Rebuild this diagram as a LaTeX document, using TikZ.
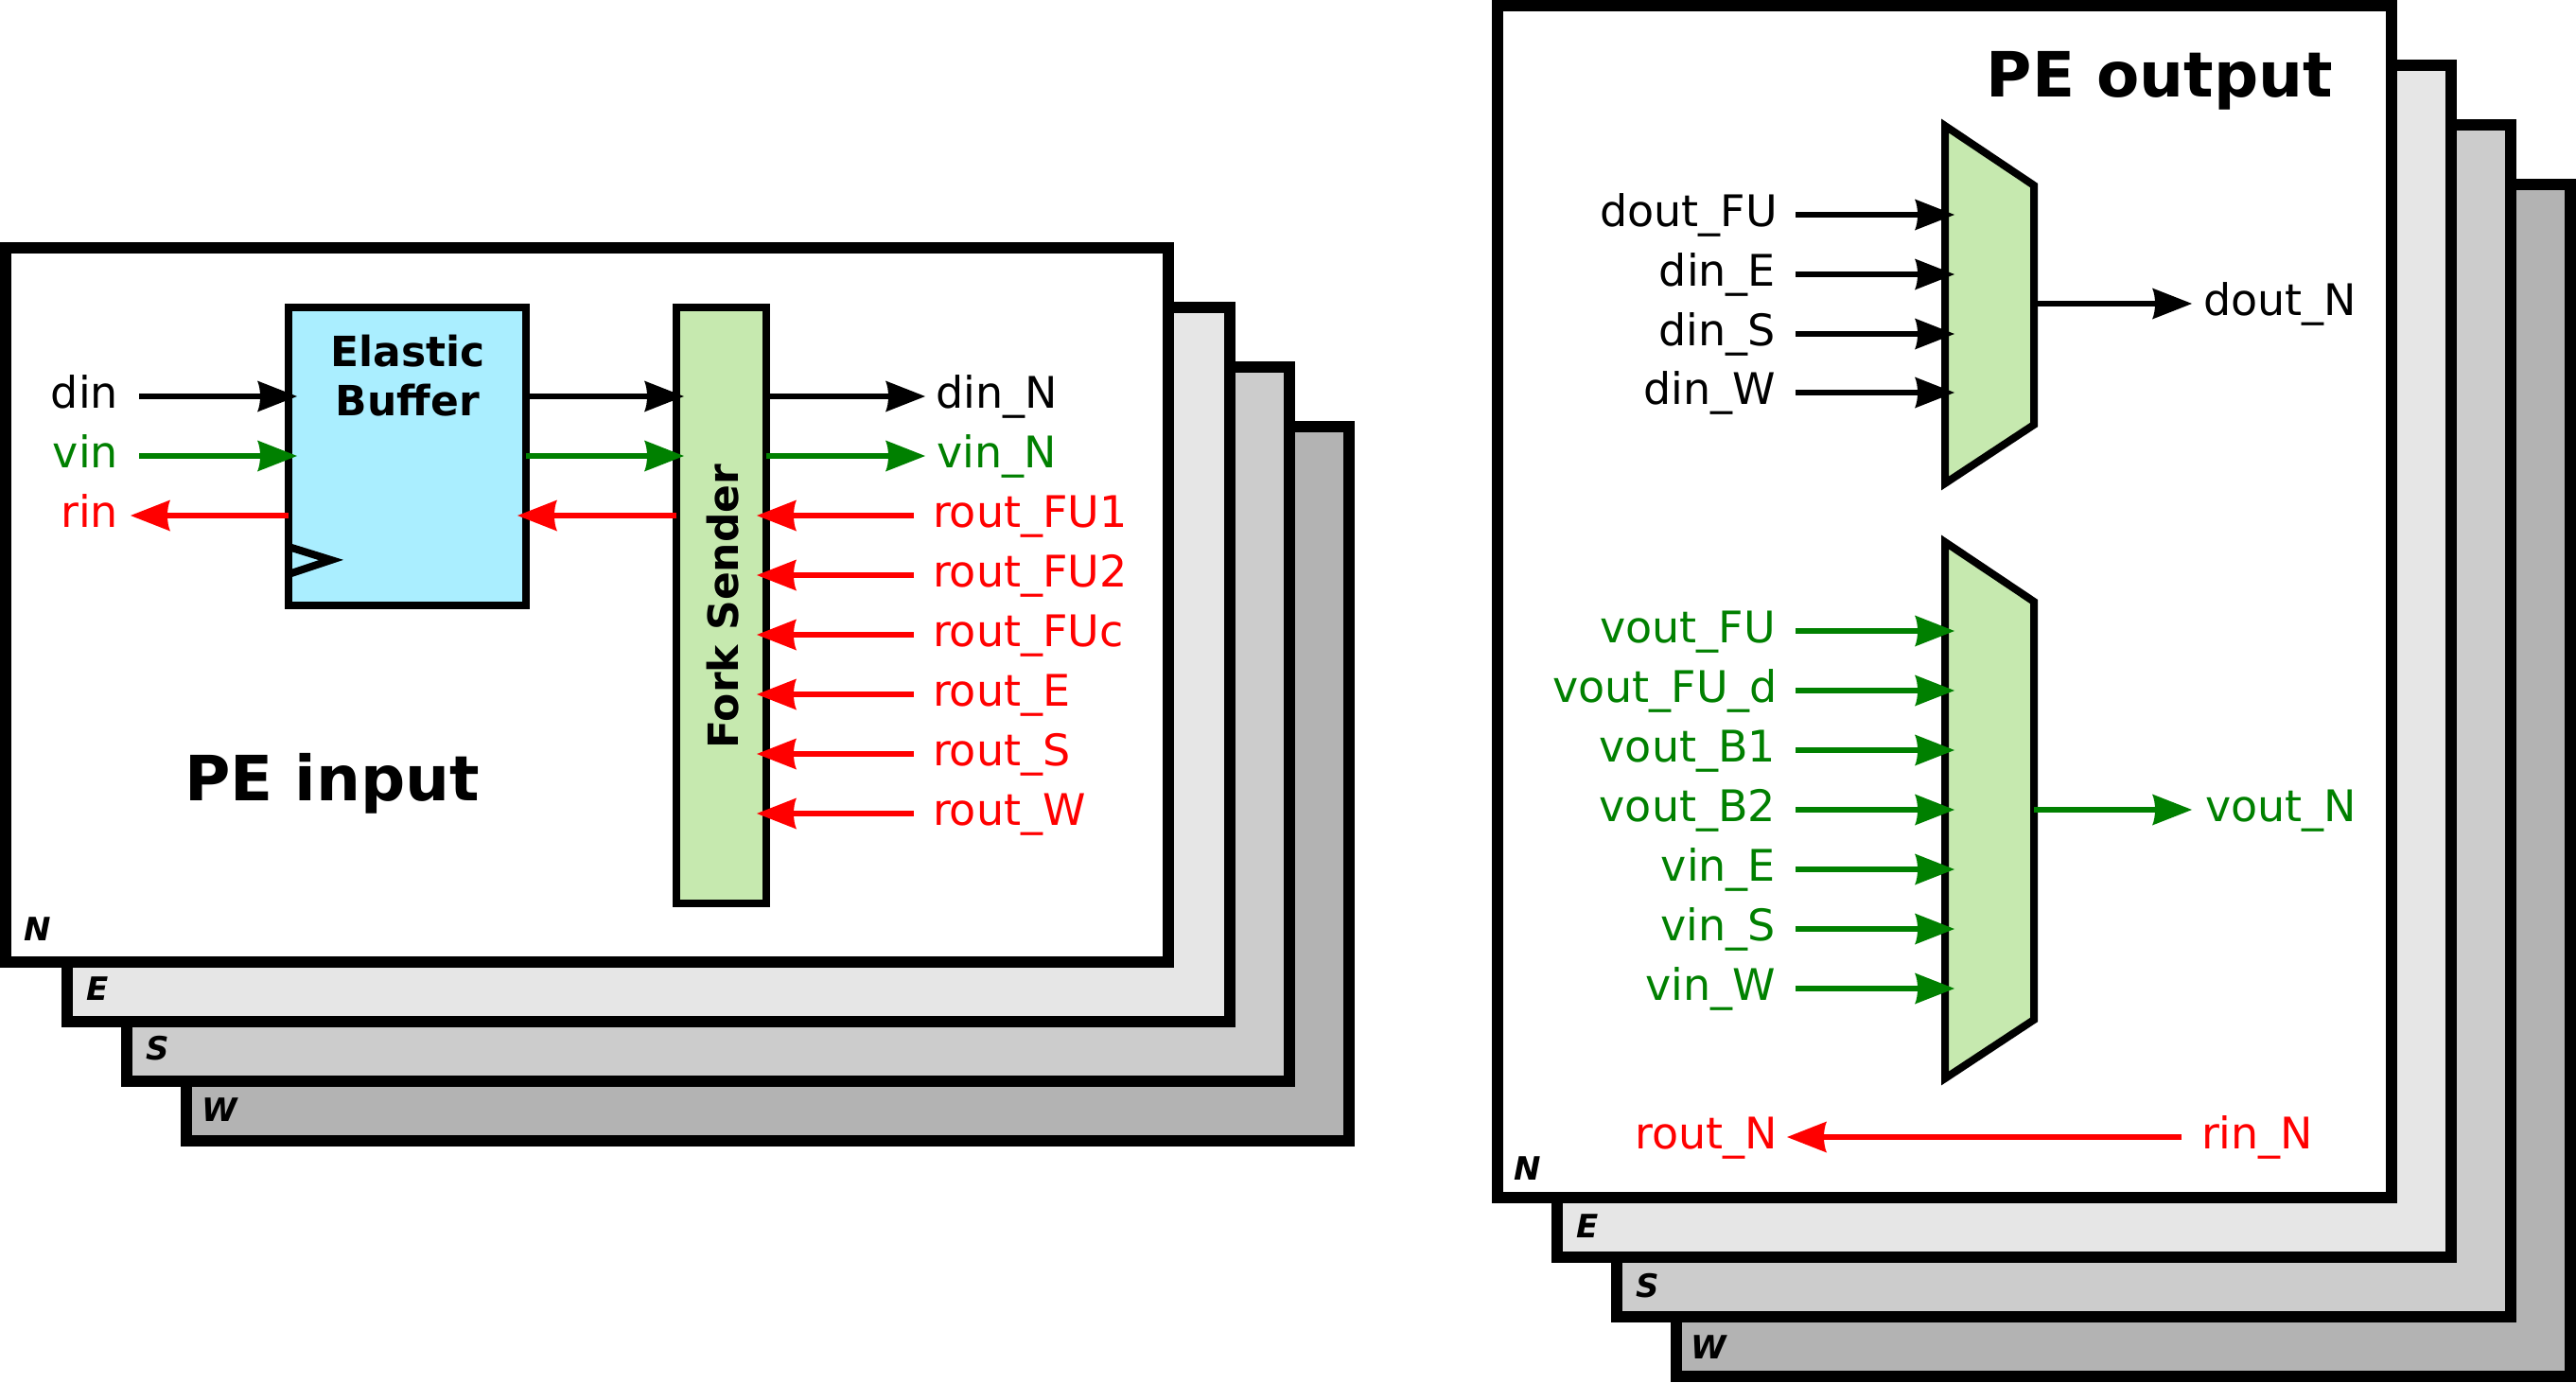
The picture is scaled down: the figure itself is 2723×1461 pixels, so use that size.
\documentclass[tikz,border=0pt]{standalone}
\usepackage{fontspec}
\setmainfont{DejaVu Sans}
\usetikzlibrary{arrows.meta,calc}
\pgfdeclarearrow{
  name=PEtip,
  setup code={
    \pgfarrowssettipend{0pt}
    \pgfarrowssetlineend{-18pt}
    \pgfarrowssetvisualbackend{-21pt}
    \pgfarrowssetbackend{-21pt}
    \pgfarrowshullpoint{0pt}{0pt}
    \pgfarrowshullpoint{-21pt}{8.25pt}
    \pgfarrowshullpoint{-21pt}{-8.25pt}
  },
  drawing code={
    \pgfpathmoveto{\pgfpoint{0pt}{0pt}}
    \pgfpathlineto{\pgfpoint{-21pt}{8.25pt}}
    \pgfpathcurveto{\pgfpoint{-19pt}{4pt}}{\pgfpoint{-19pt}{-4pt}}{\pgfpoint{-21pt}{-8.25pt}}
    \pgfpathclose
    \pgfusepathqfill
  }
}
\definecolor{pegreen}{HTML}{008000}
\definecolor{pered}{HTML}{FF0000}
\definecolor{ebfill}{HTML}{AAEEFF}
\definecolor{muxfill}{HTML}{C6E9AF}
\definecolor{layerE}{HTML}{E6E6E6}
\definecolor{layerS}{HTML}{CCCCCC}
\definecolor{layerW}{HTML}{B3B3B3}
\tikzset{
  x=0.5pt,y=-0.5pt,
  frame/.style={draw=black,line width=6.25pt,miter limit=10},
  box/.style={draw=black,line width=4pt,outer sep=0pt,inner sep=0pt},
  mux/.style={draw=black,line width=4pt,fill=muxfill,line join=miter,miter limit=10},
  sig/.style={line width=3pt,-{PEtip}},
  lab/.style={inner sep=0pt,outer sep=0pt,font=\fontsize{23pt}{27pt}\selectfont},
  lr/.style={lab,anchor=mid east},
  ll/.style={lab,anchor=mid west},
  layertag/.style={inner sep=0pt,anchor=base west,font=\fontsize{17pt}{20pt}\selectfont\bfseries\itshape},
  titletext/.style={inner sep=0pt,anchor=base,font=\fontsize{33pt}{40pt}\selectfont\bfseries},
  boxtext/.style={inner sep=0pt,anchor=base,font=\fontsize{22pt}{28pt}\selectfont\bfseries}
}
\begin{document}
\begin{tikzpicture}[execute at begin picture={\fontsize{23pt}{27pt}\selectfont}]
\useasboundingbox (0,0) rectangle (2723,1461);
% ---- left stack
\draw[frame,fill=layerW] (197,451) rectangle (1426,1206);
\draw[frame,fill=layerS] (134,388) rectangle (1363,1143);
\draw[frame,fill=layerE] (71,325) rectangle (1300,1080);
\draw[frame,fill=white] (6,262) rectangle (1235,1017);
\node[layertag] (tagNl) at (25,994) {N};
\node[layertag] (tagEl) at (91,1057) {E};
\node[layertag] (tagSl) at (154,1120) {S};
\node[layertag] (tagWl) at (213,1185) {W};
% boxes
\node[box,fill=ebfill,minimum width=125.5pt,minimum height=157.5pt] (eb) at (430.5,482.5) {};
\node[box,fill=muxfill,minimum width=47.5pt,minimum height=315pt] (fork) at (762.5,640) {};
\node[boxtext] (ebA) at (431,387) {Elastic};
\node[boxtext] (ebB) at (431,439) {Buffer};
\node[boxtext,rotate=90] (forkt) at (780,641) {Fork Sender};
\node[titletext] (pein) at (351,846) {PE input};
\coordinate (clkA) at (305,578);
\coordinate (clkB) at (350,592);
\coordinate (clkC) at (305,607);
\draw[line width=4pt,miter limit=10] (clkA) -- (clkB) -- (clkC);
% left labels
\node[lr] (din) at (125,419) {din};
\node[lr,text=pegreen] (vin) at (125,482) {vin};
\node[lr,text=pered] (rin) at (125,545) {rin};
\node[ll] (dinN) at (989,419) {din\_N};
\node[ll,text=pegreen] (vinN) at (990,482) {vin\_N};
\node[ll,text=pered] (rFUa) at (986,545) {rout\_FU1};
\node[ll,text=pered] (rFUb) at (986,608) {rout\_FU2};
\node[ll,text=pered] (rFUc) at (986,671) {rout\_FUc};
\node[ll,text=pered] (rE) at (986,734) {rout\_E};
\node[ll,text=pered] (rS) at (986,797) {rout\_S};
\node[ll,text=pered] (rW) at (986,860) {rout\_W};
% left connectors
\draw[sig] ([xshift=11pt]din.mid east) -- ([xshift=4.5pt]eb.west |- din.mid east);
\draw[sig,pegreen] ([xshift=11pt]vin.mid east) -- ([xshift=4.5pt]eb.west |- vin.mid east);
\draw[sig,pered] (eb.west |- rin.mid east) -- ([xshift=6.5pt]rin.mid east);
\draw[sig] (eb.east |- din.mid east) -- ([xshift=4pt]fork.west |- din.mid east);
\draw[sig,pegreen] (eb.east |- vin.mid east) -- ([xshift=4pt]fork.west |- vin.mid east);
\draw[sig,pered] (fork.west |- rin.mid east) -- ([xshift=-4.5pt]eb.east |- rin.mid east);
\draw[sig] (fork.east |- dinN.mid west) -- ([xshift=-5.5pt]dinN.mid west);
\draw[sig,pegreen] (fork.east |- vinN.mid west) -- ([xshift=-6pt]vinN.mid west);
\foreach \n in {rFUa,rFUb,rFUc,rE,rS,rW}{
  \draw[sig,pered] ([xshift=-10pt]\n.mid west) -- ([xshift=-5pt]fork.east |- \n.mid west);
}
% ---- right stack
\draw[frame,fill=layerW] (1772,195) rectangle (2717,1455);
\draw[frame,fill=layerS] (1709,132) rectangle (2654,1392);
\draw[frame,fill=layerE] (1646,69) rectangle (2591,1329);
\draw[frame,fill=white] (1583,6) rectangle (2528,1266);
\node[layertag] (tagNr) at (1600,1247) {N};
\node[layertag] (tagEr) at (1666,1308) {E};
\node[layertag] (tagSr) at (1729,1371) {S};
\node[layertag] (tagWr) at (1787,1436) {W};
\node[titletext] (peout) at (2283,103) {PE output};
% muxes
\coordinate (mAa) at (2056,133);
\coordinate (mAb) at (2150,196);
\coordinate (mAc) at (2150,449);
\coordinate (mAd) at (2056,511);
\coordinate (mBa) at (2056,573);
\coordinate (mBb) at (2150,636);
\coordinate (mBc) at (2150,1078);
\coordinate (mBd) at (2056,1140);
\draw[mux] (mAa) -- (mAb) -- (mAc) -- (mAd) -- cycle;
\draw[mux] (mBa) -- (mBb) -- (mBc) -- (mBd) -- cycle;
% right labels
\coordinate (vx) at (1877,0);
\node[lr] (dFU) at (1879,227) {dout\_FU};
\node[lr] (dE) at (1877,290) {din\_E};
\node[lr] (dS) at (1877,353) {din\_S};
\node[lr] (dW) at (1877,415) {din\_W};
\node[ll] (dN) at (2329,321) {dout\_N};
\node[lr,text=pegreen] (vFU) at (1877,667) {vout\_FU};
\node[lr,text=pegreen] (vFUd) at (1879,730) {vout\_FU\_d};
\node[lr,text=pegreen] (vBa) at (1877,793) {vout\_B1};
\node[lr,text=pegreen] (vBb) at (1877,856) {vout\_B2};
\node[lr,text=pegreen] (vE) at (1877,919) {vin\_E};
\node[lr,text=pegreen] (vS) at (1877,982) {vin\_S};
\node[lr,text=pegreen] (vW) at (1877,1045) {vin\_W};
\node[ll,text=pegreen] (vN) at (2331,856) {vout\_N};
\node[lr,text=pered] (routN) at (1879,1202) {rout\_N};
\node[ll,text=pered] (rinN) at (2327,1202) {rin\_N};
% right connectors
\foreach \n in {dFU,dE,dS,dW}{
  \draw[sig] ([xshift=10.5pt]vx |- \n.mid east) -- ([xshift=5pt]mAa |- \n.mid east);
}
\foreach \n in {vFU,vFUd,vBa,vBb,vE,vS,vW}{
  \draw[sig,pegreen] ([xshift=10.5pt]vx |- \n.mid east) -- ([xshift=5pt]mBa |- \n.mid east);
}
\draw[sig] (mAb |- dN.mid west) -- ([xshift=-6pt]dN.mid west);
\draw[sig,pegreen] (mBb |- vN.mid west) -- ([xshift=-7pt]vN.mid west);
\draw[sig,pered] ([xshift=-10.5pt]rinN.mid west) -- ([xshift=5pt]routN.mid east);
\end{tikzpicture}
\end{document}
